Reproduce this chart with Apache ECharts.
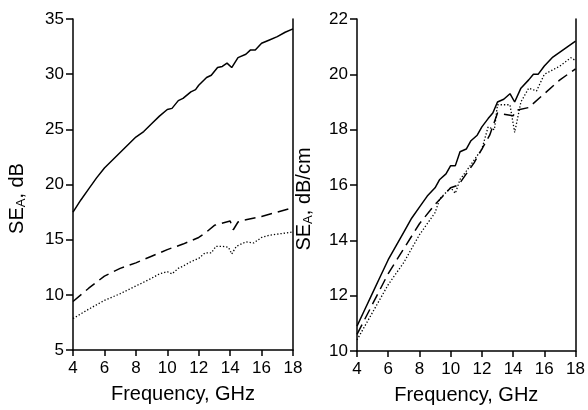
<!DOCTYPE html>
<html><head><meta charset="utf-8">
<script src="https://cdn.jsdelivr.net/npm/echarts@6/dist/echarts.min.js"></script>
<style>html,body{margin:0;padding:0;background:#fff}#c{width:588px;height:410px}</style>
</head><body><div id="c"></div>
<script>
// Left panel: SE_A, dB
const leftSolid = [[4,17.5],[4.5,18.6],[5,19.6],[5.5,20.6],[6,21.5],[6.5,22.2],[7,22.9],[7.5,23.6],[8,24.3],[8.5,24.8],[9,25.5],[9.5,26.2],[10,26.8],[10.3,26.9],[10.7,27.6],[11,27.8],[11.5,28.4],[11.8,28.6],[12,29.0],[12.5,29.7],[12.8,29.9],[13.2,30.6],[13.5,30.7],[13.8,31.0],[14.1,30.6],[14.5,31.5],[15,31.8],[15.3,32.2],[15.6,32.2],[16,32.8],[16.5,33.1],[17,33.4],[17.5,33.8],[18,34.1]];
const leftDashed = [[4,9.4],[5,10.6],[6,11.7],[7,12.4],[8,12.9],[9,13.5],[10,14.1],[11,14.6],[12,15.2],[12.5,15.7],[13,16.3],[14,16.7],[14.2,15.9],[14.5,16.6],[15,16.8],[16,17.1],[17,17.5],[18,17.9]];
const leftDotted = [[4,7.85],[5,8.7],[6,9.5],[7,10.1],[8,10.8],[9,11.5],[9.5,11.9],[10,12.1],[10.3,11.9],[10.7,12.4],[11,12.6],[11.5,13.0],[12,13.3],[12.4,13.8],[12.8,13.8],[13.1,14.4],[13.5,14.4],[13.9,14.3],[14.1,13.7],[14.4,14.4],[15,14.8],[15.5,14.7],[16,15.2],[16.5,15.4],[17,15.5],[18,15.7]];
// Right panel: SE_A, dB/cm
const rightSolid = [[4,10.9],[4.5,11.5],[5,12.1],[5.5,12.7],[6,13.3],[6.5,13.8],[7,14.3],[7.5,14.8],[8,15.2],[8.5,15.6],[9,15.9],[9.3,16.2],[9.7,16.4],[10,16.7],[10.3,16.7],[10.6,17.2],[11,17.3],[11.3,17.6],[11.7,17.8],[12,18.1],[12.4,18.4],[12.7,18.6],[13,19.0],[13.4,19.1],[13.8,19.3],[14.1,19.0],[14.5,19.5],[15,19.8],[15.3,20.0],[15.6,20.0],[16,20.3],[16.5,20.6],[17,20.8],[17.5,21.0],[18,21.2]];
const rightDashed = [[4,10.6],[5,11.7],[6,12.8],[7,13.7],[8,14.6],[9,15.3],[10,15.9],[10.5,16.0],[11,16.4],[11.5,16.8],[12,17.3],[12.5,17.8],[13,18.6],[14,18.5],[14.2,18.7],[15,18.8],[16,19.3],[17,19.8],[18,20.2]];
const rightDotted = [[4,10.4],[5,11.4],[6,12.4],[7,13.2],[8,14.2],[9,15.0],[9.3,15.5],[10,15.9],[10.3,15.7],[10.6,16.2],[11,16.5],[11.5,16.9],[12,17.3],[12.4,18.1],[12.8,18.0],[13,18.9],[13.5,18.9],[13.8,18.9],[14.1,17.9],[14.5,19.0],[15,19.5],[15.5,19.4],[16,20.0],[17,20.3],[17.7,20.6],[18,20.5]];
const xTicks = [4,6,8,10,12,14,16,18];

const FONT = 'Liberation Sans, Arial, sans-serif';
const black = '#000';
function xAxis(gi){return {type:'value',gridIndex:gi,min:4,max:18,interval:2,
  name:'Frequency, GHz',nameLocation:'middle',nameGap:34,
  nameTextStyle:{fontFamily:FONT,fontSize:20,color:black},
  axisLine:{lineStyle:{color:black,width:1.5}},axisTick:{length:6,lineStyle:{color:black,width:1.5}},
  axisLabel:{fontFamily:FONT,fontSize:17,color:black,margin:10},splitLine:{show:false}};}
function yAxis(gi,min,max,iv,unit,gap){return {type:'value',gridIndex:gi,min:min,max:max,interval:iv,
  name:'{a|SE}{s|A}{a|, '+unit+'}',nameLocation:'middle',nameGap:gap,nameRotate:90,
  nameTextStyle:{padding:[0,28,0,0],rich:{a:{fontFamily:FONT,fontSize:20,color:black},s:{fontFamily:FONT,fontSize:13,color:black,verticalAlign:'bottom',padding:[9,0,0,0]}}},
  axisLine:{show:true,lineStyle:{color:black,width:1.5}},axisTick:{length:7,lineStyle:{color:black,width:1.5}},
  axisLabel:{fontFamily:FONT,fontSize:17,color:black,margin:9},splitLine:{show:false}};}
function rightLine(gi,min,max){return {type:'value',gridIndex:gi,min:min,max:max,position:'right',
  axisLine:{show:true,lineStyle:{color:black,width:1.5}},axisTick:{show:false},axisLabel:{show:false},splitLine:{show:false}};}
function ser(data,xi,yi,type){return {type:'line',data:data,xAxisIndex:xi,yAxisIndex:yi,symbol:'none',smooth:false,
  lineStyle:{color:black,width:type==='dotted'?1.3:1.5,type:type==='dashed'?[11,6]:type==='dotted'?[1.3,2]:'solid'}};}
const chart = echarts.init(document.getElementById('c'),null,{renderer:'canvas'});
chart.setOption({
  animation:false,backgroundColor:'#fff',
  grid:[{left:73,top:19,width:220,height:331},{left:357,top:19,width:220,height:332}],
  xAxis:[xAxis(0),xAxis(1)],
  yAxis:[yAxis(0,5,35,5,'dB',45),yAxis(1,10,22,2,'dB/cm',42),rightLine(0,5,35),rightLine(1,10,22)],
  series:[ser(leftSolid,0,0,'solid'),ser(leftDashed,0,0,'dashed'),ser(leftDotted,0,0,'dotted'),
          ser(rightSolid,1,1,'solid'),ser(rightDashed,1,1,'dashed'),ser(rightDotted,1,1,'dotted')]
});
</script></body></html>
